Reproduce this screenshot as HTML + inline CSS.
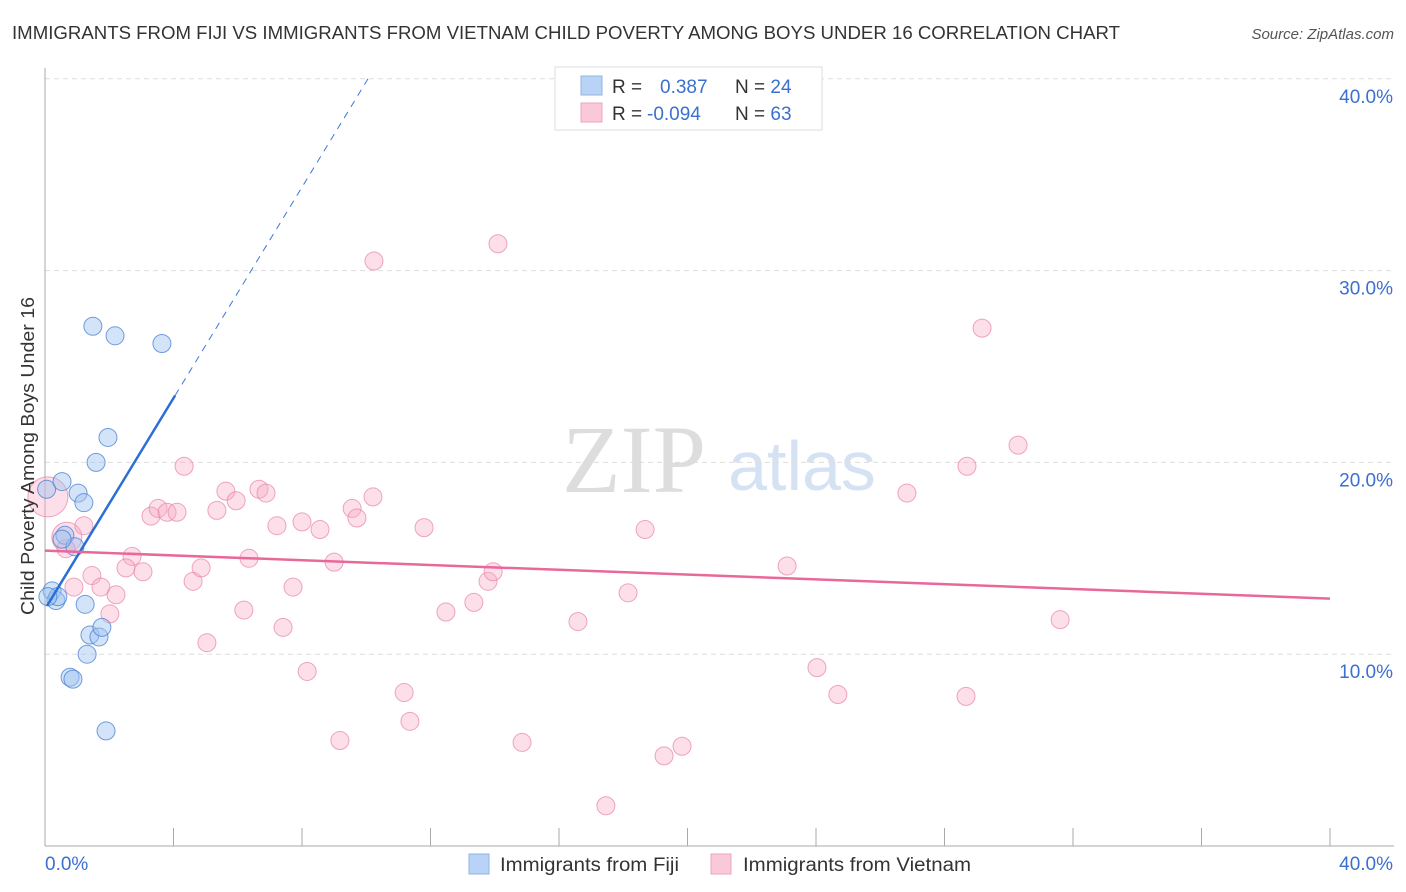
<!DOCTYPE html>
<html><head><meta charset="utf-8"><style>
body{margin:0;background:#fff;font-family:"Liberation Sans",sans-serif;}
svg{display:block}
</style></head><body>
<svg id="c" width="1406" height="892" xmlns="http://www.w3.org/2000/svg">
<text x="12" y="39" font-size="18" fill="#333" textLength="1108" lengthAdjust="spacingAndGlyphs">IMMIGRANTS FROM FIJI VS IMMIGRANTS FROM VIETNAM CHILD POVERTY AMONG BOYS UNDER 16 CORRELATION CHART</text>
<text x="1394" y="39" font-size="15" fill="#555" font-style="italic" text-anchor="end">Source: ZipAtlas.com</text>
<text x="634" y="492" font-size="96" fill="#ddd" font-family="Liberation Serif,serif" text-anchor="middle">ZIP</text>
<text x="802" y="490" font-size="70" fill="#d4e2f4" text-anchor="middle">atlas</text>
<g id="grid"></g><g id="marks"></g>
<text transform="translate(34,456) rotate(-90)" font-size="18" fill="#333" text-anchor="middle" textLength="318" lengthAdjust="spacingAndGlyphs">Child Poverty Among Boys Under 16</text>
<g>
<rect x="555" y="67" width="267" height="63" fill="#fff" stroke="#ddd"/>
<rect x="581" y="76" width="21" height="19" fill="#b8d3f5" stroke="#8fb4e8"/>
<rect x="581" y="103" width="21" height="19" fill="#f9c9d8" stroke="#efa3bb"/>
<text x="612" y="93" font-size="19" fill="#333">R = <tspan x="660" fill="#3b6fd0">0.387</tspan><tspan x="735" fill="#333">N = </tspan><tspan fill="#3b6fd0">24</tspan></text>
<text x="612" y="120" font-size="19" fill="#333">R = <tspan x="647" fill="#3b6fd0">-0.094</tspan><tspan x="735" fill="#333">N = </tspan><tspan fill="#3b6fd0">63</tspan></text>
</g>
<g>
<rect x="469" y="854" width="20" height="20" fill="#b8d3f5" stroke="#8fb4e8"/>
<text x="500" y="871" font-size="19" fill="#333" textLength="179" lengthAdjust="spacingAndGlyphs">Immigrants from Fiji</text>
<rect x="711" y="854" width="20" height="20" fill="#f9c9d8" stroke="#efa3bb"/>
<text x="743" y="871" font-size="19" fill="#333" textLength="228" lengthAdjust="spacingAndGlyphs">Immigrants from Vietnam</text>
</g>
</svg>
<script>
const yTicks=[10,20,30,40];
const yTickLabels=["10.0%","20.0%","30.0%","40.0%"];
const fijiX=[1.49,2.18,3.64,1.96,1.59,0.05,0.53,1.03,1.21,0.62,0.93,0.22,0.34,0.40,1.25,1.40,1.68,1.77,1.31,0.78,0.87,1.90,0.09,0.53];
const fijiY=[27.1,26.6,26.2,21.3,20.0,18.6,19.0,18.4,17.9,16.2,15.6,13.3,12.8,13.0,12.6,11.0,10.9,11.4,10.0,8.8,8.7,6.0,13.0,16.0];
const vietX=[0.09,0.68,0.65,1.21,4.33,5.63,5.95,6.66,6.88,5.35,3.30,3.52,3.80,4.11,10.24,14.10,29.17,30.29,28.70,26.83,10.21,9.56,9.71,7.22,8.00,8.56,11.80,18.68,1.46,0.90,1.74,2.21,2.71,2.52,3.05,4.61,4.86,6.35,9.00,7.72,13.79,13.95,18.15,23.10,13.35,12.48,6.19,2.02,16.59,31.60,7.41,5.04,8.16,24.03,24.68,28.67,11.18,11.36,9.18,14.85,19.83,19.27,17.46];
const vietY=[18.2,16.1,15.5,16.7,19.8,18.5,18.0,18.6,18.4,17.5,17.2,17.6,17.4,17.4,30.5,31.4,27.0,20.9,19.8,18.4,18.2,17.6,17.1,16.7,16.9,16.5,16.6,16.5,14.1,13.5,13.5,13.1,15.1,14.5,14.3,13.8,14.5,15.0,14.8,13.5,13.8,14.3,13.2,14.6,12.7,12.2,12.3,12.1,11.7,11.8,11.4,10.6,9.1,9.3,7.9,7.8,8.0,6.5,5.5,5.4,5.2,4.7,2.1];
const vietR=[20,15];
const fijiTrend=[12.35,2.75];
const vietTrend=[15.4,-0.0625];
const NS="http://www.w3.org/2000/svg";
const X=v=>45+v*32.125, Y=v=>846-v*19.18;
function mk(t,a,p){const e=document.createElementNS(NS,t);for(const k in a)e.setAttribute(k,a[k]);p.appendChild(e);return e;}
const g=document.getElementById('grid'), m=document.getElementById('marks');
yTicks.forEach((t,i)=>{
 const l=mk('line',{x1:45,x2:1394,y1:Y(t),y2:Y(t),stroke:'#ddd','stroke-dasharray':'5,4'},g);
 
 
 const tx=mk('text',{x:1393,y:Y(t)+24,'font-size':19,fill:'#3b6fd0','text-anchor':'end'},g);tx.textContent=yTickLabels[i];
 
 
});
const ax=mk('line',{x1:45,x2:45,y1:68,y2:846,stroke:'#aaa'},g);


const bx=mk('line',{x1:45,x2:1394,y1:846,y2:846,stroke:'#aaa'},g);


for(let i=1;i<=10;i++){const t=mk('line',{x1:X(i*4),x2:X(i*4),y1:828,y2:846,stroke:'#aaa'},g);
 
 }
const x0=mk('text',{x:45,y:870,'font-size':19,fill:'#3b6fd0'},g);x0.textContent='0.0%';


const x1=mk('text',{x:1393,y:870,'font-size':19,fill:'#3b6fd0','text-anchor':'end'},g);x1.textContent='40.0%';


vietX.forEach((v,i)=>{const c=mk('circle',{cx:X(v),cy:Y(vietY[i]),r:vietR[i]||9,fill:'rgba(246,170,196,0.38)',stroke:'rgba(232,130,165,0.7)','stroke-width':1},m);
 
 });
fijiX.forEach((v,i)=>{const c=mk('circle',{cx:X(v),cy:Y(fijiY[i]),r:9,fill:'rgba(160,196,240,0.45)',stroke:'rgba(70,125,210,0.75)','stroke-width':1},m);
 
 });
const fy=x=>fijiTrend[0]+fijiTrend[1]*x;
const xe=(40-fijiTrend[0])/fijiTrend[1];
const fd=mk('line',{x1:X(4.05),y1:Y(fy(4.05)),x2:X(xe),y2:Y(40),stroke:'#3b78d8','stroke-width':1,'stroke-dasharray':'7,6'},m);


const fl=mk('line',{x1:X(0.06),y1:Y(fy(0.06)),x2:X(4.05),y2:Y(fy(4.05)),stroke:'#2a6fd6','stroke-width':2.5},m);


const vy=x=>vietTrend[0]+vietTrend[1]*x;
const vl=mk('line',{x1:X(0),y1:Y(vy(0)),x2:X(40),y2:Y(vy(40)),stroke:'#e8689a','stroke-width':2.5},m);


</script>
</body></html>
